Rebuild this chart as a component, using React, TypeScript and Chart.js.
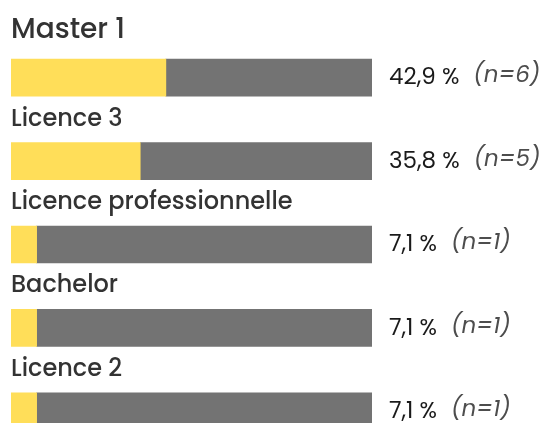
import React, { useEffect, useRef } from "react";
import { Chart, registerables } from "chart.js";

Chart.register(...registerables);

const categories = ["Master 1", "Licence 3", "Licence professionnelle", "Bachelor", "Licence 2"];
const percents = [42.9, 35.8, 7.1, 7.1, 7.1];
const counts = [6, 5, 1, 1, 1];
const remainders = percents.map((p) => 100 - p);

const YELLOW = "#FFDE59";
const GRAY = "#737373";
const FONT = "Poppins, 'Open Sans', sans-serif";

const labelsPlugin = {
  id: "labelsPlugin",
  afterDatasetsDraw(chart: any) {
    const ctx = chart.ctx;
    const area = chart.chartArea;
    const meta = chart.getDatasetMeta(0);
    ctx.save();
    meta.data.forEach((bar: any, i: number) => {
      const y = bar.y;
      const h = bar.height;
      // category label
      ctx.fillStyle = "#333333";
      ctx.textBaseline = "middle";
      ctx.textAlign = "left";
      ctx.font = i === 0 ? `500 28px ${FONT}` : `500 24px ${FONT}`;
      ctx.fillText(categories[i], area.left, y - h / 2 - (i === 0 ? 28 : 23));
      // percent
      const pct = percents[i].toFixed(1).replace(".", ",") + " %";
      ctx.font = `400 23px ${FONT}`;
      ctx.fillStyle = "#1a1a1a";
      const x0 = area.right + 17;
      ctx.fillText(pct, x0, y + 1);
      const w = ctx.measureText(pct).width;
      ctx.font = `italic 400 23px ${FONT}`;
      ctx.fillStyle = "#4d4d4d";
      ctx.fillText(`(n=${counts[i]})`, x0 + w + 14, y - 1);
    });
    ctx.restore();
  },
};

export default function App() {
  const ref = useRef<HTMLCanvasElement | null>(null);
  useEffect(() => {
    if (!ref.current) return;
    const chart = new Chart(ref.current, {
      type: "bar",
      data: {
        labels: categories,
        datasets: [
          { data: percents, backgroundColor: YELLOW, barThickness: 37, borderWidth: 0 },
          { data: remainders, backgroundColor: GRAY, barThickness: 37, borderWidth: 0 },
        ],
      },
      options: {
        indexAxis: "y",
        animation: false,
        responsive: false,
        maintainAspectRatio: false,
        layout: { padding: { left: 11, right: 172, top: 36, bottom: 7 } },
        plugins: { legend: { display: false }, tooltip: { enabled: false } },
        scales: {
          x: { stacked: true, min: 0, max: 100, display: false, grid: { display: false } },
          y: { stacked: true, display: false, grid: { display: false } },
        },
      },
      plugins: [labelsPlugin],
    });
    return () => chart.destroy();
  }, []);
  return (
    <div style={{ position: "absolute", left: 0, top: 0, width: 544, height: 423, overflow: "hidden", background: "#fff" }}>
      <canvas ref={ref} width={544} height={460} style={{ display: "block", width: 544, height: 460 }} />
    </div>
  );
}
